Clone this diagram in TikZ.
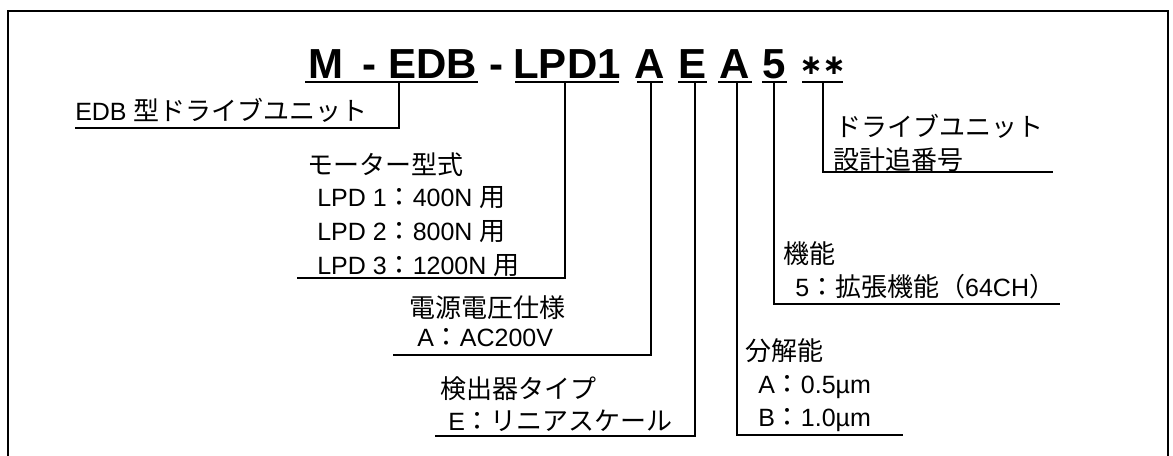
\documentclass[tikz,border=0pt]{standalone}
\usepackage{fontspec}
\setmainfont{Liberation Sans}
\newfontfamily\jp[Scale=1.04]{Noto Sans CJK JP}
\newfontfamily\symf{DejaVu Sans}
\begin{document}
\begin{tikzpicture}[x=0.75pt,y=-0.75pt,
  lead/.style={line width=1pt},
  frameline/.style={line width=2.2pt},
  lbl/.style={anchor=base west, inner sep=0pt, font=\fontsize{18.75pt}{20pt}\selectfont},
  ttl/.style={anchor=base, inner sep=0pt, font=\fontsize{31.5pt}{32pt}\selectfont\bfseries},
  star/.style={anchor=base, inner sep=0pt, font=\fontsize{21pt}{22pt}\selectfont\symf\bfseries}]
\useasboundingbox (0,0) rectangle (1173,455);
% outer frame (open at the bottom)
\draw[frameline] (8,458) -- (8,11) -- (1168,11) -- (1168,458);

% title pieces
\node[ttl] (tM)   at (326,78)   {M};
\node[ttl] (tD1)  at (369.5,78) {-};
\node[ttl] (tEDB) at (432.5,78) {EDB};
\node[ttl] (tD2)  at (496.5,78) {-};
\node[ttl] (tLPD) at (567,78)   {LPD1};
\node[ttl] (tA1)  at (650,78)   {A};
\node[ttl] (tE)   at (692.5,78) {E};
\node[ttl] (tA2)  at (735,78)   {A};
\node[ttl] (t5)   at (774.5,78) {5};
\node[star] (tS1) at (811,74) {∗};
\node[star] (tS2) at (834,74) {∗};

% underline end points and bracket corners
\coordinate (uMa) at (305,82);  \coordinate (uMb) at (478,82);
\coordinate (uLa) at (515,82);  \coordinate (uLb) at (619,82);
\coordinate (uAa) at (637,82);  \coordinate (uAb) at (663,82);
\coordinate (uEa) at (678,82);  \coordinate (uEb) at (707,82);
\coordinate (uBa) at (718,82);  \coordinate (uBb) at (752,82);
\coordinate (u5a) at (762,82);  \coordinate (u5b) at (787,82);
\coordinate (uSa) at (802,82);  \coordinate (uSb) at (843,82);

\coordinate (cEDB) at (399,82); \coordinate (eEDB) at (75,128);
\coordinate (cLPD) at (565,82); \coordinate (eLPD) at (297,278);
\coordinate (cA1)  at (651,82); \coordinate (eA1)  at (393,355);
\coordinate (cE)   at (695,82); \coordinate (eE)   at (435,436);
\coordinate (cA2)  at (737,82); \coordinate (eA2)  at (903,435);
\coordinate (c5)   at (774,82); \coordinate (e5)   at (1060,304);
\coordinate (cS)   at (823,82); \coordinate (eS)   at (1053,172);

\foreach \a/\b in {uMa/uMb,uLa/uLb,uAa/uAb,uEa/uEb,uBa/uBb,u5a/u5b,uSa/uSb}
  \draw[lead] (\a) -- (\b);

% labels
\node[lbl] (lEDB) at (75,120) {EDB {\jp 型ドライブユニット}};
\node[lbl] (lMot) at (307,174) {\jp モーター型式};
\node[lbl] (lL1)  at (317,206) {LPD 1{\jp ：}400N {\jp 用}};
\node[lbl] (lL2)  at (317,240) {LPD 2{\jp ：}800N {\jp 用}};
\node[lbl] (lL3)  at (317,274) {LPD 3{\jp ：}1200N {\jp 用}};
\node[lbl] (lPow) at (409,317) {\jp 電源電圧仕様};
\node[lbl] (lAC)  at (417,346) {A{\jp ：}AC200V};
\node[lbl] (lDet) at (440,398) {\jp 検出器タイプ};
\node[lbl] (lLin) at (448,430) {E{\jp ：リニアスケール}};
\node[lbl] (lRes) at (745,360) {\jp 分解能};
\node[lbl] (lR1)  at (758,393) {A{\jp ：}0.5µm};
\node[lbl] (lR2)  at (758,426) {B{\jp ：}1.0µm};
\node[lbl] (lFun) at (783,263) {\jp 機能};
\node[lbl] (lF5)  at (795,296) {5{\jp ：拡張機能（}64CH{\jp ）}};
\node[lbl] (lDrv) at (835,136) {\jp ドライブユニット};
\node[lbl] (lSer) at (833,169) {\jp 設計追番号};

% leader connectors
\draw[lead] (cEDB) |- (eEDB);
\draw[lead] (cLPD) |- (eLPD);
\draw[lead] (cA1)  |- (eA1);
\draw[lead] (cE)   |- (eE);
\draw[lead] (cA2)  |- (eA2);
\draw[lead] (c5)   |- (e5);
\draw[lead] (cS)   |- (eS);
\end{tikzpicture}
\end{document}
